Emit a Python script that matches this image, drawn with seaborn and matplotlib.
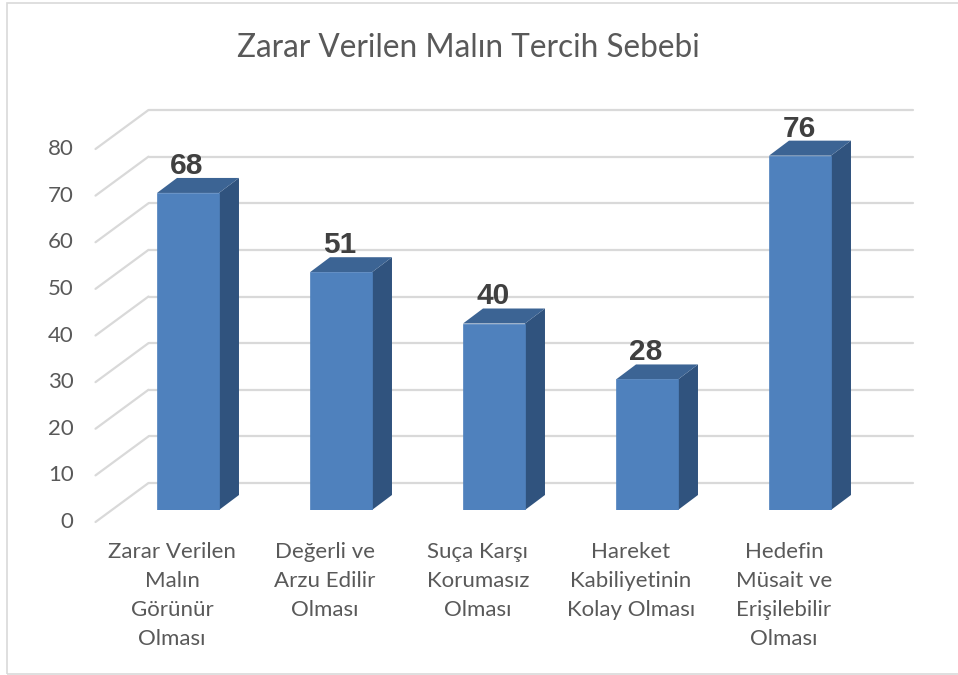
import numpy as np
import pandas as pd
import seaborn as sns
import matplotlib.pyplot as plt
from matplotlib.transforms import ScaledTranslation
from matplotlib.patches import Polygon, Rectangle

sns.set_style('white')
plt.rcParams['font.family'] = ['Lato', 'DejaVu Sans']

title = 'Zarar Verilen Malın Tercih Sebebi'
categories = ['Zarar Verilen\nMalın\nGörünür\nOlması',
              'Değerli ve\nArzu Edilir\nOlması',
              'Suça Karşı\nKorumasız\nOlması',
              'Hareket\nKabiliyetinin\nKolay Olması',
              'Hedefin\nMüsait ve\nErişilebilir\nOlması']
values = [68, 51, 40, 28, 76]
yticks = [0, 10, 20, 30, 40, 50, 60, 70, 80]

front_col = '#4F81BD'
top_col = '#3C6494'
side_col = '#30537E'
grid_col = '#D9D9D9'
text_col = '#595959'

df = pd.DataFrame({'cat': categories, 'val': values})

fig = plt.figure(figsize=(9.58, 6.75), dpi=100)
ax = fig.add_axes([111.5 / 958, 165 / 675, 765 / 958, 373 / 675])

sns.barplot(data=df, x='cat', y='val', color=front_col, saturation=1,
            width=0.405, ax=ax, zorder=3, edgecolor=front_col, linewidth=0.5)
ax.set_xlim(-0.5, 4.5)
ax.set_ylim(0, 80)
ax.axis('off')


def shift(px, py):
    return ax.transData + ScaledTranslation(px / 100, py / 100, fig.dpi_scale_trans)


back = shift(37, 27)
front = shift(-16, -12)

# back wall lines and left wall diagonals
for v in yticks:
    ax.plot([-0.5, 4.5], [v, v], color=grid_col, lw=1.6, transform=back,
            zorder=0, clip_on=False)
    p0 = front.transform((-0.5, v))
    p1 = back.transform((-0.5, v))
    fig.add_artist(plt.Line2D([p0[0] / 958, p1[0] / 958], [p0[1] / 675, p1[1] / 675],
                              color=grid_col, lw=1.6, zorder=0))
    ax.text(-0.5, v, str(v), transform=shift(-16 - 22, -12), ha='right', va='center',
            fontsize=16, color=text_col)

# depth of the bars in data units
ppu_x = ax.bbox.width / 5
ppu_y = ax.bbox.height / 80
ddx = 20 / ppu_x
ddy = 15 / ppu_y

for p, v in zip(ax.patches, values):
    x0 = p.get_x()
    x1 = x0 + p.get_width()
    h = p.get_height()
    side = Polygon([(x1, 0), (x1 + ddx, ddy), (x1 + ddx, h + ddy), (x1, h)],
                   closed=True, facecolor=side_col, edgecolor='none', zorder=2,
                   clip_on=False)
    top = Polygon([(x0, h), (x0 + ddx, h + ddy), (x1 + ddx, h + ddy), (x1, h)],
                  closed=True, facecolor=top_col, edgecolor='none', zorder=2,
                  clip_on=False)
    ax.add_patch(side)
    ax.add_patch(top)
    ax.annotate(str(v), xy=(x0 + p.get_width() / 2, h), xytext=(-1, 19),
                textcoords='offset pixels', ha='center', va='baseline',
                fontsize=21.5, fontweight='bold', color='#404040',
                family='Liberation Sans', annotation_clip=False)

for i, c in enumerate(categories):
    ax.text(i, 0, c, transform=shift(-16, -12 - 20), ha='center', va='top',
            fontsize=16, color=text_col, linespacing=1.56)

fig.text(468 / 958, 1 - 48 / 675, title, ha='center', va='center',
         fontsize=22.7, color=text_col)

fig.add_artist(Rectangle((7 / 958, 1 / 675), 1, 671 / 675, transform=fig.transFigure,
                         fill=False, edgecolor=grid_col, lw=1.2))

fig.savefig('out.png', dpi=100)
